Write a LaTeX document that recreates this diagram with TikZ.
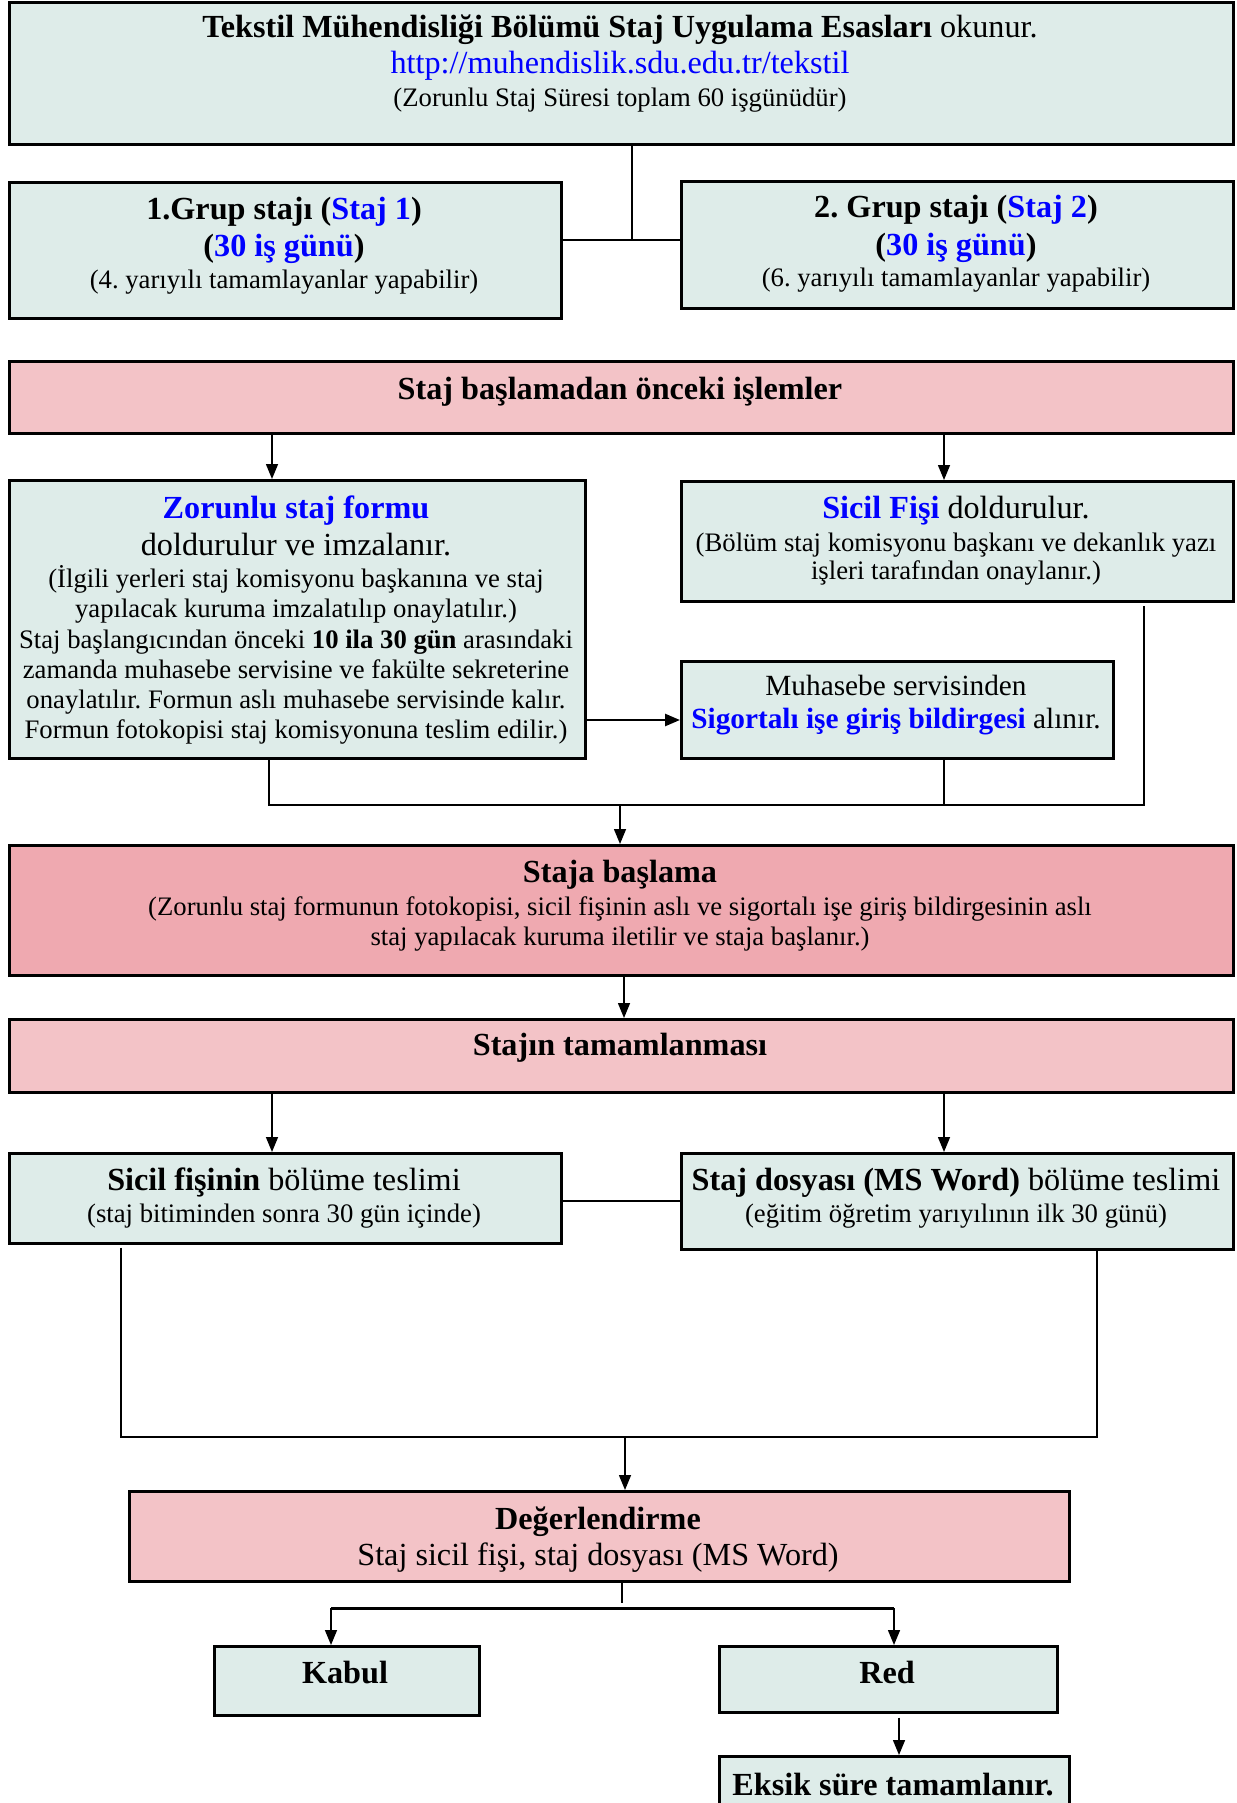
\documentclass[tikz,border=0pt]{standalone}
\usepackage{fontspec}
\setmainfont{Liberation Serif}
\usetikzlibrary{arrows.meta}

\definecolor{tealbox}{HTML}{DEECE9}
\definecolor{pinklight}{HTML}{F3C3C7}
\definecolor{pinkdark}{HTML}{EFA9B0}
\definecolor{linkblue}{HTML}{0000FF}

\newcommand\bl[1]{\textcolor{linkblue}{#1}}
\newcommand\fsL{\fontsize{32.2}{36}\selectfont}
\newcommand\fsM{\fontsize{29.3}{32}\selectfont}
\newcommand\fsS{\fontsize{26.7}{30}\selectfont}
\frenchspacing

\begin{document}
\begin{tikzpicture}[x=1pt,y=-1pt,
  flowbox/.style={draw=black, line width=2.6pt, inner sep=0pt, anchor=north west, fill=tealbox},
  pinkbox/.style={flowbox, fill=pinklight},
  hotbox/.style={flowbox, fill=pinkdark},
  txt/.style={anchor=base, inner sep=0pt},
  conn/.style={line width=1.5pt},
  arr/.style={conn, -{Triangle[length=15pt,width=12pt]}}]

\useasboundingbox (0,0) rectangle (1236,1803);
\begin{scope}
\clip (0,0) rectangle (1236,1803);

% ---- boxes ----
\node[flowbox, minimum width=1224pt, minimum height=142pt] (top) at (8,1.5) {};
\node[flowbox, minimum width=552pt, minimum height=136pt] (g1) at (8,181) {};
\node[flowbox, minimum width=552pt, minimum height=127pt] (g2) at (680,180) {};
\node[pinkbox, minimum width=1224pt, minimum height=72pt] (pre) at (8,360) {};
\node[flowbox, minimum width=576pt, minimum height=278pt] (zor) at (8,479) {};
\node[flowbox, minimum width=552pt, minimum height=120pt] (sic) at (680,480) {};
\node[flowbox, minimum width=432pt, minimum height=97pt] (muh) at (680,660) {};
\node[hotbox, minimum width=1224pt, minimum height=130pt] (start) at (8,844) {};
\node[pinkbox, minimum width=1224pt, minimum height=73pt] (tam) at (8,1018) {};
\node[flowbox, minimum width=552pt, minimum height=90pt] (sf) at (8,1152) {};
\node[flowbox, minimum width=552pt, minimum height=96pt] (sd) at (680,1152) {};
\node[pinkbox, minimum width=940pt, minimum height=90pt] (deg) at (128,1490) {};
\node[flowbox, minimum width=265pt, minimum height=69pt] (kabul) at (213,1645) {};
\node[flowbox, minimum width=338pt, minimum height=66pt] (red) at (718,1645) {};
\node[flowbox, minimum width=350pt, minimum height=80pt] (eksik) at (718,1755) {};

% ---- texts ----
\node[txt] (t1a) at (620,38) {\fsL\textbf{Tekstil Mühendisliği Bölümü Staj Uygulama Esasları} okunur.};
\node[txt] (t1b) at (620,74) {\fsL\bl{http://muhendislik.sdu.edu.tr/tekstil}};
\node[txt] (t1c) at (620,107) {\fsS(Zorunlu Staj Süresi toplam 60 işgünüdür)};

\node[txt] (g1a) at (284,220) {\fsL\textbf{1.Grup stajı (\bl{Staj 1})}};
\node[txt] (g1b) at (284,257) {\fsL\textbf{(\bl{30 iş günü})}};
\node[txt] (g1c) at (284,288) {\fsS(4. yarıyılı tamamlayanlar yapabilir)};

\node[txt] (g2a) at (956,218) {\fsL\textbf{2. Grup stajı (\bl{Staj 2})}};
\node[txt] (g2b) at (956,255) {\fsL\textbf{(\bl{30 iş günü})}};
\node[txt] (g2c) at (956,287) {\fsS(6. yarıyılı tamamlayanlar yapabilir)};

\node[txt] (prea) at (620,399) {\fsL\textbf{Staj başlamadan önceki işlemler}};

\node[txt] (za) at (296,518) {\fsL\textbf{\bl{Zorunlu staj formu}}};
\node[txt] (zb) at (296,555) {\fsL doldurulur ve imzalanır.};
\node[txt] (zc) at (296,587) {\fsS(İlgili yerleri staj komisyonu başkanına ve staj};
\node[txt] (zd) at (296,617) {\fsS yapılacak kuruma imzalatılıp onaylatılır.)};
\node[txt] (ze) at (296,648) {\fsS Staj başlangıcından önceki \textbf{10 ila 30 gün} arasındaki};
\node[txt] (zf) at (296,678) {\fsS zamanda muhasebe servisine ve fakülte sekreterine};
\node[txt] (zg) at (296,708) {\fsS onaylatılır. Formun aslı muhasebe servisinde kalır.};
\node[txt] (zh) at (296,738) {\fsS Formun fotokopisi staj komisyonuna teslim edilir.)};

\node[txt] (sa) at (956,518) {\fsL\bl{\textbf{Sicil Fişi}} doldurulur.};
\node[txt] (sb) at (956,551) {\fsS(Bölüm staj komisyonu başkanı ve dekanlık yazı};
\node[txt] (sc) at (956,579) {\fsS işleri tarafından onaylanır.)};

\node[txt] (ma) at (896,695) {\fsM Muhasebe servisinden};
\node[txt] (mb) at (896,728) {\fsM\bl{\textbf{Sigortalı işe giriş bildirgesi}} alınır.};

\node[txt] (sta) at (620,882) {\fsL\textbf{Staja başlama}};
\node[txt] (stb) at (620,915) {\fsS(Zorunlu staj formunun fotokopisi, sicil fişinin aslı ve sigortalı işe giriş bildirgesinin aslı};
\node[txt] (stc) at (620,945) {\fsS staj yapılacak kuruma iletilir ve staja başlanır.)};

\node[txt] (ta) at (620,1055) {\fsL\textbf{Stajın tamamlanması}};

\node[txt] (sfa) at (284,1190) {\fsL\textbf{Sicil fişinin} bölüme teslimi};
\node[txt] (sfb) at (284,1222) {\fsS(staj bitiminden sonra 30 gün içinde)};

\node[txt] (sda) at (956,1190) {\fsL\textbf{Staj dosyası (MS Word)} bölüme teslimi};
\node[txt] (sdb) at (956,1222) {\fsS(eğitim öğretim yarıyılının ilk 30 günü)};

\node[txt] (da) at (598,1529) {\fsL\textbf{Değerlendirme}};
\node[txt] (db) at (598,1565) {\fsL Staj sicil fişi, staj dosyası (MS Word)};

\node[txt] (ka) at (345,1683) {\fsL\textbf{Kabul}};
\node[txt] (ra) at (887,1683) {\fsL\textbf{Red}};
\node[txt] (ea) at (893,1795) {\fsL\textbf{Eksik süre tamamlanır.}};

% ---- connectors ----
\coordinate (colA) at (632,240);
\draw[conn] (top.south -| colA) -- (colA);
\draw[conn] (g1.east |- colA) -- (g2.west |- colA);

\coordinate (colL) at (272,0);
\coordinate (colR) at (944,0);
\draw[arr] (pre.south -| colL) -- (zor.north -| colL);
\draw[arr] (pre.south -| colR) -- (sic.north -| colR);

\coordinate (rowM) at (0,720);
\draw[arr, line width=2.5pt] (zor.east |- rowM) -- (muh.west |- rowM);

\coordinate (cZ) at (269,805);
\coordinate (cM) at (944,805);
\coordinate (cS) at (1144,805);
\coordinate (cA) at (620,805);
\draw[conn] (zor.south -| cZ) -- (cZ) -- (cS) -- ([yshift=-3pt]sic.south -| cS);
\draw[conn] (muh.south -| cM) -- (cM);
\draw[arr] (cA) -- (start.north -| cA);

\coordinate (cB) at (624,0);
\draw[arr] (start.south -| cB) -- (tam.north -| cB);
\draw[arr] (tam.south -| colL) -- (sf.north -| colL);
\draw[arr] (tam.south -| colR) -- (sd.north -| colR);

\coordinate (rowS) at (0,1201);
\draw[conn] (sf.east |- rowS) -- (sd.west |- rowS);

\coordinate (cF) at (121,1437);
\coordinate (cD) at (1097,1437);
\coordinate (cC) at (625,1437);
\draw[conn] ([yshift=-3pt]sf.south -| cF) -- (cF) -- (cD) -- (sd.south -| cD);
\draw[arr] (cC) -- (deg.north -| cC);

\coordinate (cE) at (622,1603);
\draw[conn] (deg.south -| cE) -- (cE);
\coordinate (cK) at (331,1608);
\coordinate (cR2) at (894,1608);
\draw[conn, line width=3pt] (cK) -- (cR2);
\draw[arr] (cK) -- (kabul.north -| cK);
\draw[arr] (cR2) -- (red.north -| cR2);

\coordinate (cX) at (899,0);
\draw[arr] ([yshift=-4pt]red.south -| cX) -- (eksik.north -| cX);

\end{scope}
\end{tikzpicture}
\end{document}
